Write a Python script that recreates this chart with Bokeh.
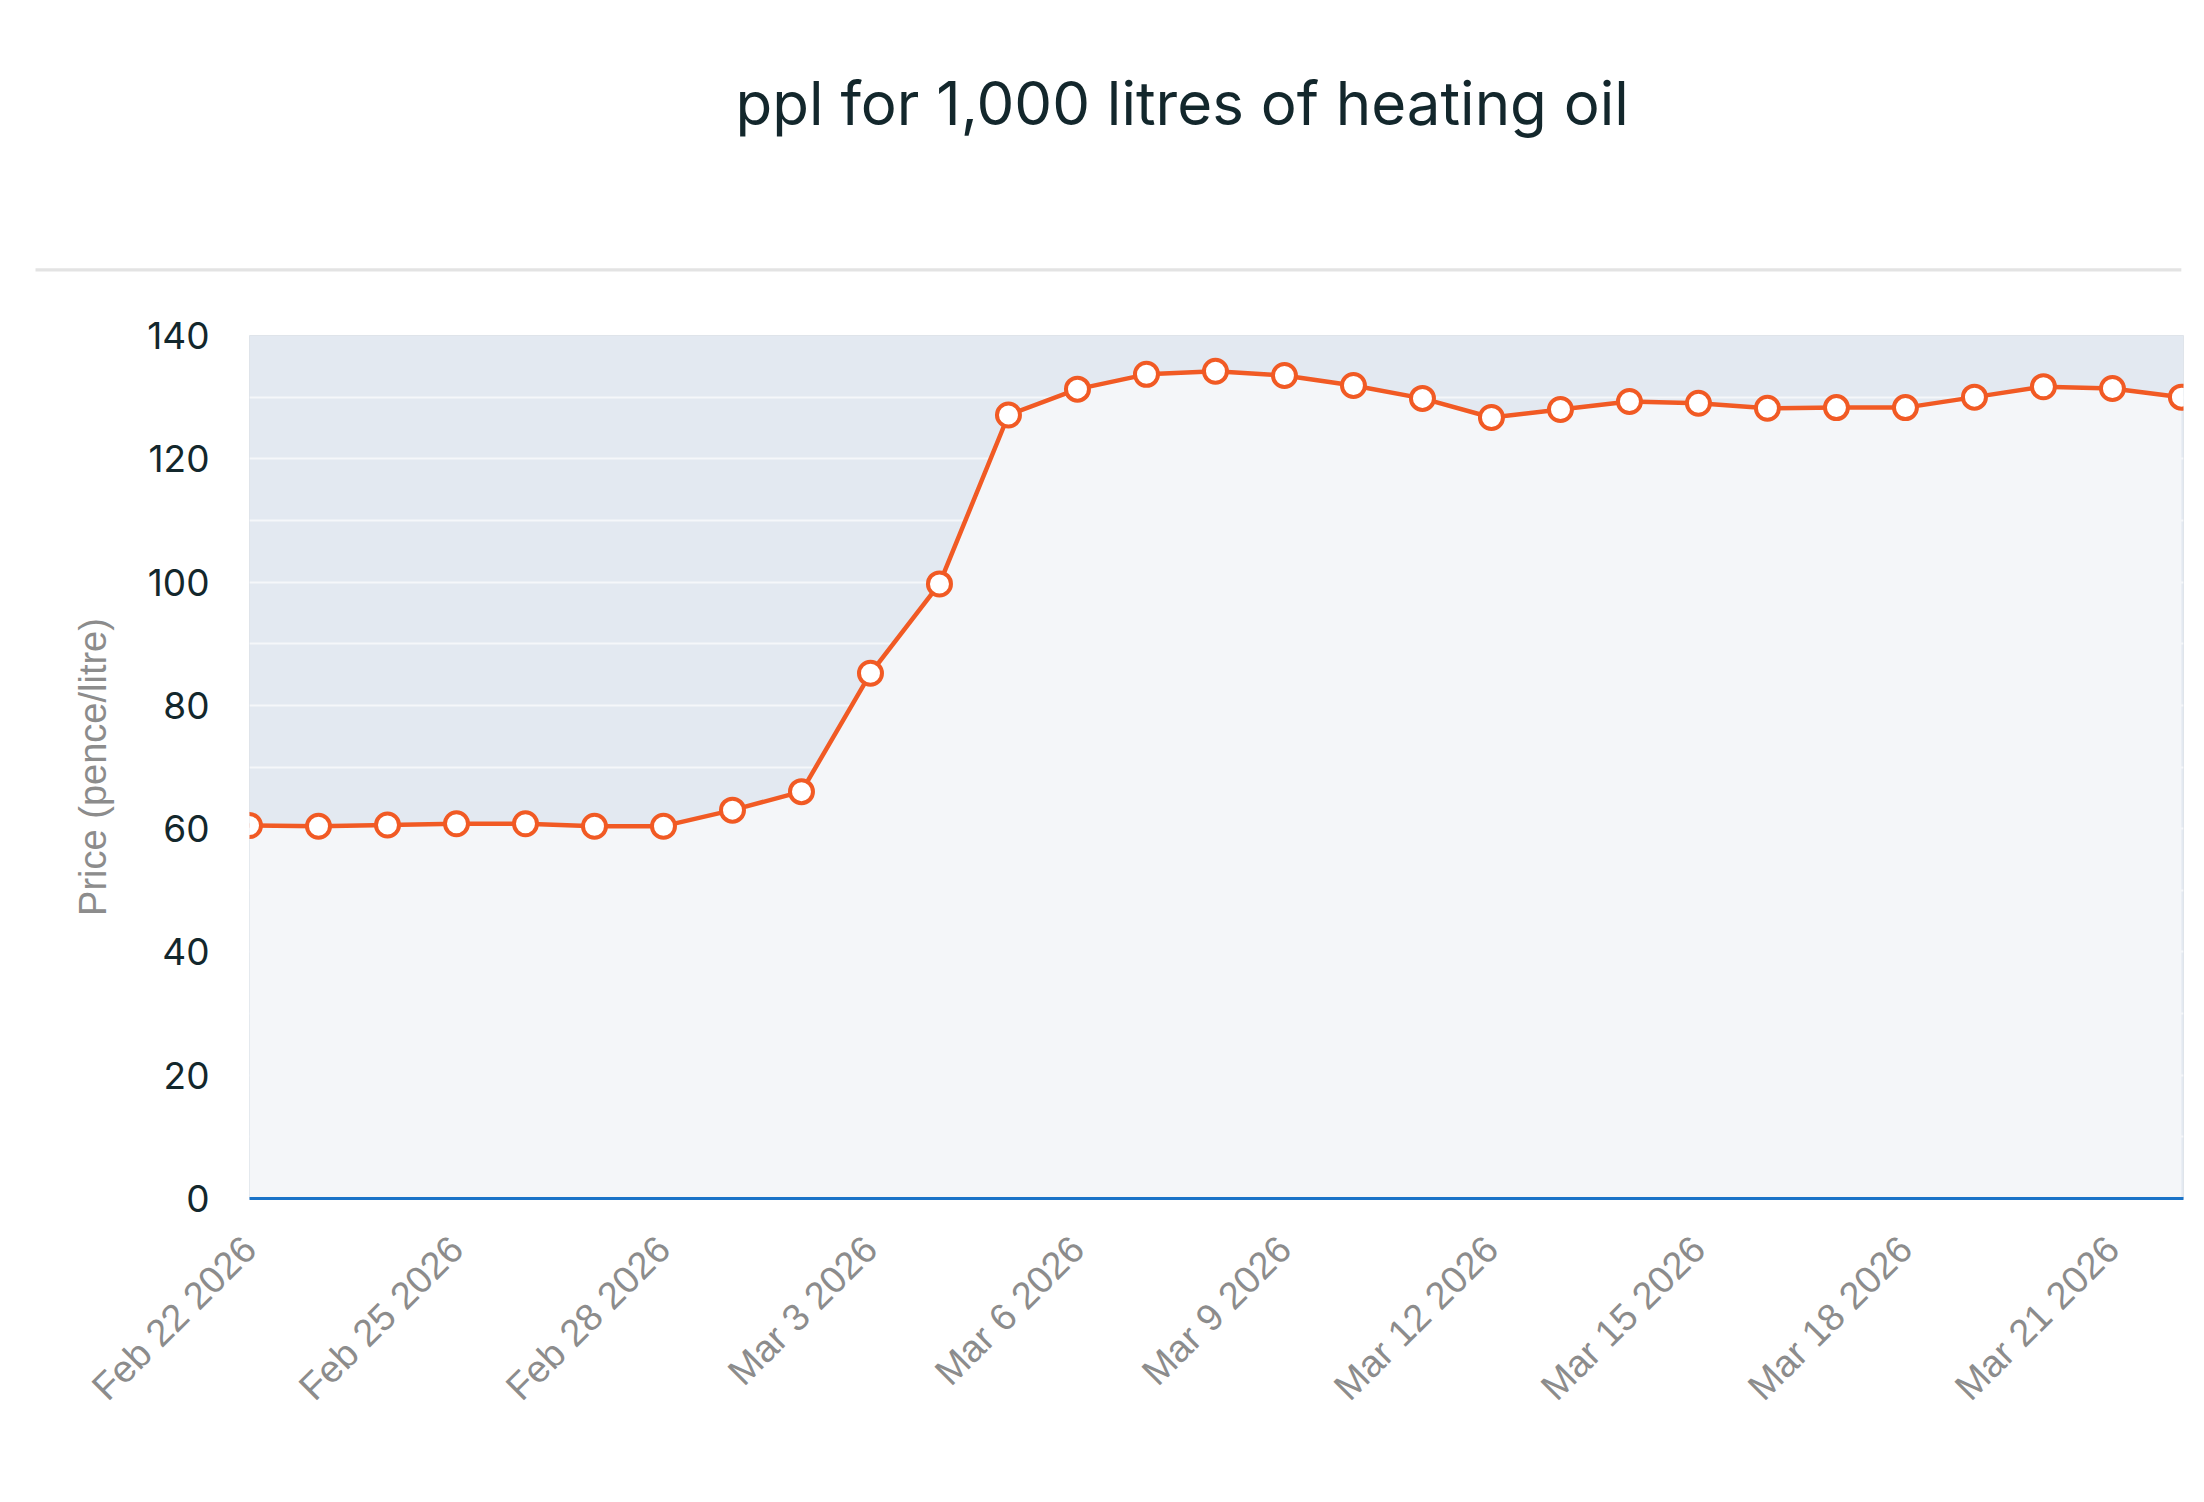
import math
from bokeh.plotting import figure
from bokeh.models import (Range1d, FixedTicker, SingleIntervalTicker, ColumnDataSource,
                          Title)
from bokeh.embed import file_html
from bokeh.resources import INLINE

# ---------------- data ----------------
dates = (["Feb %d 2026" % d for d in range(22, 29)] +
         ["Mar %d 2026" % d for d in range(1, 23)])
prices = [60.5, 60.4, 60.6, 60.8, 60.8, 60.4, 60.4, 63.0, 66.0, 85.2,
          99.7, 127.1, 131.3, 133.7, 134.2, 133.5, 131.9, 129.8, 126.7, 128.0,
          129.3, 129.0, 128.2, 128.3, 128.3, 130.0, 131.7, 131.4, 130.0]
day_index = list(range(len(dates)))
tick_days = day_index[::3]
tick_labels = [dates[i] for i in tick_days]
y_ticks = [0, 20, 40, 60, 80, 100, 120, 140]

title_text = "ppl for 1,000 litres of heating oil"
y_label = "Price (pence/litre)"

W, H = 2204, 1502

src = ColumnDataSource(dict(x=day_index, y=prices))

p = figure(width=W, height=H, x_range=Range1d(0, 28.03), y_range=Range1d(0, 140),
           output_backend="svg", toolbar_location=None, title_location=None,
           min_border_left=249, min_border_right=21, min_border_top=333,
           min_border_bottom=304)
p.background_fill_color = "#e3e9f1"
p.border_fill_color = "white"
p.outline_line_color = "#dfe4ea"
p.outline_line_width = 1

# --- header: thin grey rule (nearest the frame), then the title above it ---
sep = Title(text=" ", align="left", offset=-214, standoff=128, vertical_align="bottom",
            text_font_size="3px", text_color="#e3e3e3",
            padding=dict(left=0, right=2145, top=0, bottom=0),
            background_fill_color="#e3e3e3", border_line_color=None)
ttl = Title(text=title_text, align="left", offset=486, standoff=128,
            vertical_align="bottom", text_font="Inter", text_font_size="60px",
            text_font_style="normal", text_color="#13272c")
p.add_layout(sep, "above")
p.add_layout(ttl, "above")

p.xgrid.visible = False
p.ygrid.ticker = SingleIntervalTicker(interval=10)
p.ygrid.grid_line_color = "#f5f7fa"
p.ygrid.grid_line_width = 2

p.varea(x="x", y1=0, y2="y", source=src, fill_color="#f4f6f9")
p.line(x="x", y="y", source=src, line_color="#f15a24", line_width=4.5)
p.scatter(x="x", y="y", source=src, size=23, fill_color="white",
          line_color="#f15a24", line_width=4)

# y axis
ya = p.yaxis[0]
ya.ticker = FixedTicker(ticks=y_ticks)
ya.axis_line_color = None
ya.major_tick_line_color = None
ya.minor_tick_line_color = None
ya.major_tick_out = 0
ya.major_label_standoff = 40
ya.major_label_text_font = "Inter"
ya.major_label_text_font_size = "37px"
ya.major_label_text_color = "#13272c"
ya.axis_label = y_label
ya.axis_label_text_font = "Liberation Sans"
ya.axis_label_text_font_size = "38px"
ya.axis_label_text_font_style = "normal"
ya.axis_label_text_color = "#8c8c8c"
ya.axis_label_standoff = 30

# x axis
xa = p.xaxis[0]
xa.ticker = FixedTicker(ticks=tick_days)
xa.major_label_overrides = {d: lab for d, lab in zip(tick_days, tick_labels)}
xa.major_label_orientation = math.pi / 4
xa.axis_line_color = "#1a73c8"
xa.axis_line_width = 3
xa.major_tick_line_color = None
xa.minor_tick_line_color = None
xa.major_tick_out = 0
xa.major_label_standoff = 44
xa.major_label_text_font = "Liberation Sans"
xa.major_label_text_font_size = "38px"
xa.major_label_text_color = "#8c8c8c"

open("out.html", "w").write(file_html(p, INLINE))
